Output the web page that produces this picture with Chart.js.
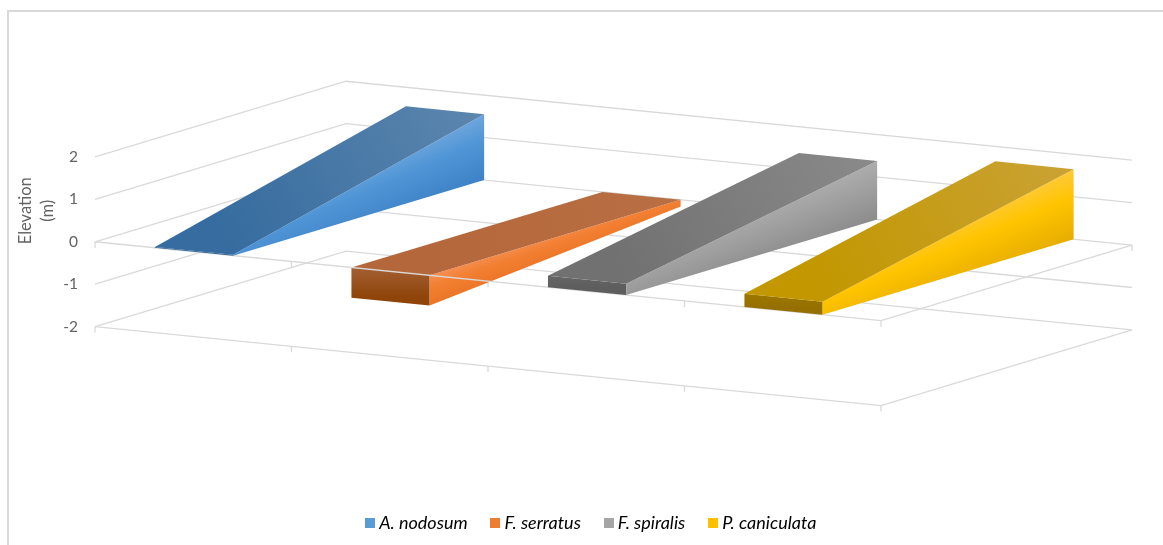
<!DOCTYPE html>
<html>
<head>
<meta charset="utf-8">
<script src="https://cdn.jsdelivr.net/npm/chart.js@4"></script>
<style>
  html, body { margin: 0; padding: 0; background: #fff; }
  #wrap { position: relative; width: 1163px; height: 545px; overflow: hidden; }
  #frame { position: absolute; left: 7px; top: 10px; width: 1170px; height: 560px; border: 2px solid #d9d9d9; }
  canvas#elevation_chart { position: absolute; left: 0; top: 0; }
</style>
</head>
<body>
<div id="wrap">
  <div id="frame"></div>
  <canvas id="elevation_chart" width="1163" height="545"></canvas>
</div>
<script>
// values at the front and at the back of each ribbon, metres
var species = ['A. nodosum', 'F. serratus', 'F. spiralis', 'P. caniculata'];
var frontValues = [0.02, -0.71, 0.27, 0.31];
var backValues = [1.55, -0.16, 1.38, 1.65];
var elevationTicks = [-2, -1, 0, 1, 2];

// legend swatches
var swatchColors = ['#5b9bd5', '#ed7d31', '#a5a5a5', '#ffc000'];
// gradient stops per face
var sideStops = [
  ['#6ea6dc', '#4f95d6', '#3d82c6'],
  ['#f58f52', '#f27f32', '#ec7526'],
  ['#adadad', '#a0a0a0', '#8c8c8c'],
  ['#ffca38', '#ffc400', '#e6ad00']
];
var topStops = [
  ['#366c9f', '#5c86ae'],
  ['#b4673a', '#b96f44'],
  ['#717171', '#8a8a8a'],
  ['#c29700', '#caa234']
];
var frontStops = [
  ['#2e6394', '#2e6394'],
  ['#a35f33', '#8f4409'],
  ['#666666', '#5e5e5e'],
  ['#9c7700', '#957000']
];

// oblique projection, in axis units
var barStart = 0.305, barEnd = 0.703;
var depthX = 251 / 196.5;      // one full depth, in categories
var catDrop = 19.75 / 42.5;    // y drop per category, in elevation units
var depthRise = 75.7 / 42.5;   // y rise over the full depth

function project(cat, depth, elev) {
  return { x: cat + depth * depthX, y: elev - cat * catDrop + depth * depthRise };
}

function wire(points) {
  return {
    data: points.map(function(p) { return project(p[0], p[1], p[2]); }),
    showLine: true, fill: false, tension: 0, pointRadius: 0, clip: false,
    borderColor: '#d9d9d9', borderWidth: 1.3
  };
}

// linear gradient across the side face, lines of equal colour follow the ribbon
function sideGradient(chart, i) {
  var sx = chart.scales.x, sy = chart.scales.y;
  function px(c, d, z) {
    var p = project(c, d, z);
    return { x: sx.getPixelForValue(p.x), y: sy.getPixelForValue(p.y) };
  }
  var c = i + barEnd, f = frontValues[i], b = backValues[i];
  var fm = px(c, 0, f / 2), bm = px(c, 1, b / 2);
  var dx = bm.x - fm.x, dy = bm.y - fm.y, len = Math.sqrt(dx * dx + dy * dy);
  var nx = dy / len, ny = -dx / len;
  var h = Math.max(Math.abs(b), Math.abs(f)) * 42.5 / 2 * Math.abs(ny);
  var g = chart.ctx.createLinearGradient(bm.x + nx * h, bm.y + ny * h, bm.x - nx * h, bm.y - ny * h);
  g.addColorStop(0, sideStops[i][0]);
  g.addColorStop(0.4, sideStops[i][1]);
  g.addColorStop(1, sideStops[i][2]);
  return g;
}

function lineGradient(chart, a, b, stops) {
  var sx = chart.scales.x, sy = chart.scales.y;
  var g = chart.ctx.createLinearGradient(
    sx.getPixelForValue(a.x), sy.getPixelForValue(a.y),
    sx.getPixelForValue(b.x), sy.getPixelForValue(b.y));
  g.addColorStop(0, stops[0]);
  g.addColorStop(1, stops[1]);
  return g;
}

function face(label, points, paint) {
  return {
    label: label,
    data: points.map(function(p) { return project(p[0], p[1], p[2]); }),
    showLine: true, tension: 0, pointRadius: 0, borderWidth: 0, clip: false,
    fill: 'shape',
    backgroundColor: function(ctx) {
      if (!ctx.chart.chartArea) return '#999';
      return paint(ctx.chart);
    }
  };
}

function ribbonFaces(i) {
  var l = i + barStart, r = i + barEnd;
  var f = frontValues[i], b = backValues[i];
  var fHi = Math.max(f, 0), fLo = Math.min(f, 0), bHi = Math.max(b, 0), bLo = Math.min(b, 0);
  var name = species[i];
  return [
    face(name, [[l, 0, fHi], [r, 0, fHi], [r, 1, bHi], [l, 1, bHi], [l, 0, fHi]], function(chart) {
      return lineGradient(chart, project(r, 0, fHi), project(r, 1, bHi), topStops[i]);
    }),
    face(name, [[r, 0, fHi], [r, 1, bHi], [r, 1, bLo], [r, 0, fLo], [r, 0, fHi]], function(chart) {
      return sideGradient(chart, i);
    }),
    face(name, [[l, 0, fHi], [r, 0, fHi], [r, 0, fLo], [l, 0, fLo], [l, 0, fHi]], function(chart) {
      return lineGradient(chart, project(l, 0, fHi), project(l, 0, fLo), frontStops[i]);
    })
  ];
}

var nCats = species.length;
var datasets = [];

// first dataset draws on top: ribbons above zero, zero axis, ribbons below zero, walls
species.forEach(function(s, i) {
  if (frontValues[i] >= 0) datasets = datasets.concat(ribbonFaces(i));
});
datasets.push(wire([[0, 0, 0], [nCats, 0, 0], [nCats, 1, 0]]));
species.forEach(function(s, i) {
  if (frontValues[i] < 0) datasets = datasets.concat(ribbonFaces(i));
});

// walls and floor
elevationTicks.forEach(function(z) {
  datasets.push(wire([[0, 0, z], [0, 1, z], [nCats, 1, z]]));
});
datasets.push(wire([[0, 0, -2], [nCats, 0, -2], [nCats, 1, -2]]));

// tick stubs under the two front edges
var stubLen = 0.14;
for (var c = 0; c <= nCats; c++) {
  datasets.push(wire([[c, 0, 0], [c, 0, -stubLen]]));
  datasets.push(wire([[c, 0, -2], [c, 0, -2 - stubLen]]));
}
datasets.push(wire([[nCats, 1, 0], [nCats, 1, -stubLen]]));

// swatch image, so the text can sit closer to it than the default gap
function swatch(color) {
  var cv = document.createElement('canvas');
  cv.width = 10; cv.height = 10;
  var cx = cv.getContext('2d');
  cx.fillStyle = color;
  cx.fillRect(0, 0, 10, 10);
  return cv;
}

var moveLegend = {
  id: 'moveLegend',
  afterLayout: function(chart) {
    var lg = chart.legend;
    var h = lg.height, w = lg.width;
    lg.left = 593 - w / 2; lg.right = 593 + w / 2;
    lg.top = 514 - h / 2; lg.bottom = 514 + h / 2;
  }
};

new Chart(document.getElementById('elevation_chart'), {
  type: 'scatter',
  data: { datasets: datasets },
  plugins: [moveLegend],
  options: {
    responsive: false,
    animation: false,
    layout: { padding: { left: 15, right: 31, top: 16, bottom: 83.9 } },
    scales: {
      x: {
        type: 'linear', display: false,
        min: 0, max: nCats + depthX
      },
      y: {
        type: 'linear',
        min: -(406 - 242) / 42.5, max: (242 - 16) / 42.5,
        afterBuildTicks: function(scale) {
          scale.ticks = elevationTicks.map(function(v) { return { value: v }; });
        },
        afterFit: function(scale) {
          scale.width = 80;
          scale.paddingTop = 0;
          scale.paddingBottom = 0;
        },
        grid: { display: false, drawTicks: false },
        border: { display: false },
        ticks: {
          padding: 17, autoSkip: false, color: '#636363',
          font: { family: 'Lato', size: 15.5 },
          callback: function(v) { return String(v); }
        },
        title: {
          display: true, text: ['Elevation', '(m)'], color: '#636363',
          font: { family: 'Lato', size: 16.5, lineHeight: 1.3 },
          padding: { top: 0, bottom: 0 }
        }
      }
    },
    plugins: {
      title: { display: false },
      tooltip: { enabled: false },
      legend: {
        position: 'bottom',
        labels: {
          usePointStyle: true, pointStyleWidth: 0.5,
          boxWidth: 10, boxHeight: 10, padding: 27.5, color: '#666666',
          font: { family: 'Lato', size: 18, style: 'italic' },
          generateLabels: function() {
            return species.map(function(s, i) {
              return { text: s, pointStyle: swatch(swatchColors[i]), fillStyle: swatchColors[i], lineWidth: 0, datasetIndex: i };
            });
          }
        }
      }
    }
  }
});
</script>
</body>
</html>
